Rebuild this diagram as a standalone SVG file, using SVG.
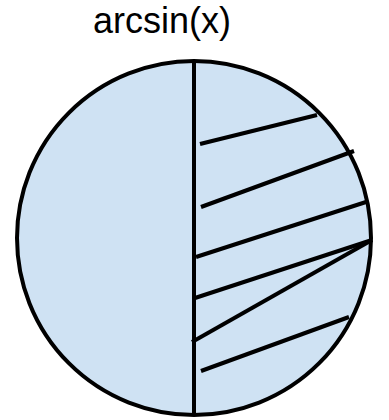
<svg xmlns="http://www.w3.org/2000/svg" width="389" height="420" viewBox="0 0 389 420">
<style>
.shape{fill:#cfe2f3;stroke:#000;stroke-width:4}
.ln{stroke:#000;stroke-width:4;fill:none;stroke-linecap:butt}
.title{font-family:"Liberation Sans",Arial,sans-serif;font-size:36px;fill:#000}
</style>
<g id="title"><text class="title" x="162" y="33" text-anchor="middle">arcsin(x)</text></g>
<g id="circle"><circle class="shape" cx="194" cy="238" r="177"/></g>
<g id="connectors">
<line class="ln" x1="194" y1="61" x2="194" y2="415"/>
<line class="ln" x1="200" y1="144" x2="317" y2="115"/>
<line class="ln" x1="201" y1="207" x2="354" y2="151"/>
<line class="ln" x1="196" y1="257" x2="366" y2="202"/>
<line class="ln" x1="195" y1="298" x2="372" y2="240"/>
<line class="ln" x1="192" y1="342" x2="372" y2="240"/>
<line class="ln" x1="201" y1="371" x2="349" y2="317"/>
</g>
</svg>
